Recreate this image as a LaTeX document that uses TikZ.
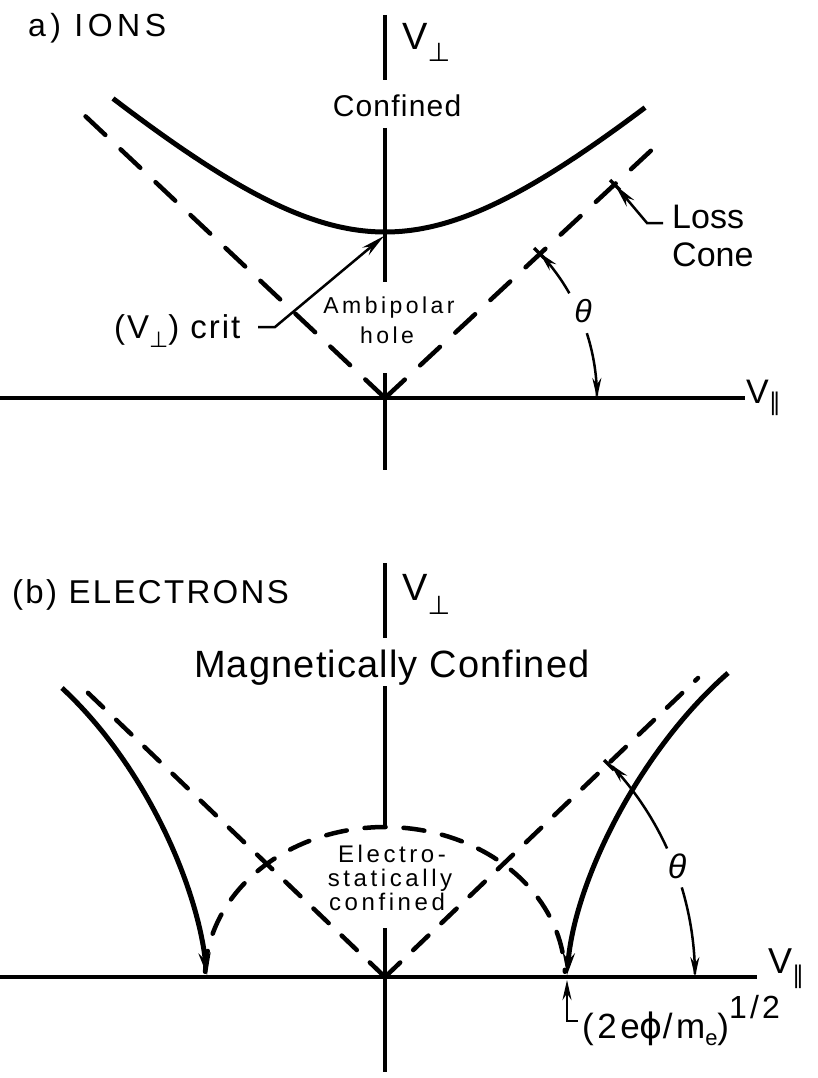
\documentclass[tikz,border=0pt]{standalone}
\usepackage{fontspec}
\setmainfont{Liberation Sans}
\newfontfamily\dejavu{DejaVu Sans}
\newcommand{\lowsym}[3]{\raisebox{#1}{\fontsize{#2}{#2}\selectfont\dejavu #3}}
\usetikzlibrary{arrows.meta}
\begin{document}
\begin{tikzpicture}[x=1pt,y=-1pt,
  axisln/.style={line width=3.5pt},
  solidc/.style={line width=5pt},
  dasha/.style={line width=4.5pt, line cap=round, dash pattern=on 27pt off 21pt},
  dashb/.style={line width=4.5pt, line cap=round, dash pattern=on 21pt off 18pt},
  leaderln/.style={line width=2.5pt},
  tickln/.style={line width=3.5pt},
  arrw/.style={-{Stealth[length=20pt,width=9pt]}},
  arrbig/.style={-{Stealth[length=24pt,width=10pt]}},
  arrfoot/.style={-{Stealth[length=22pt,width=12pt]}},
  txt/.style={inner sep=0pt, anchor=base west},
  txtc/.style={inner sep=0pt, anchor=base}]
\path[use as bounding box] (0,0) rectangle (817,1078);

% ================= panel a =================
\coordinate (oa) at (385,398);
% axes
\draw[axisln] (0,398) -- (745,398);
\draw[axisln] (385,15) -- (385,80);
\draw[axisln] (385,128) -- (385,282);
\draw[axisln] (385,373) -- (385,470);
% solid hyperbola
\draw[solidc] plot[domain=-272:260, samples=90, smooth] ({385+\x},{398-100*sqrt(2.7556+0.84*(\x/100)*(\x/100))});
% dashed loss-cone lines
\draw[dasha] (oa) -- (82,113);
\draw[dasha] (oa) -- (657,145);
% ticks on dashed line
\draw[tickln] (534,248) -- (544,258);
\draw[tickln] (610,180) -- (620,190);
% labels
\node[txt, font={\fontsize{32}{36}\selectfont\addfontfeature{LetterSpace=14}}] (ionsT) at (28,37) {a) IONS};
\node[txt, font={\fontsize{38}{44}\selectfont}] (vperpa) at (402,50) {V\lowsym{-12pt}{26}{⊥}};
\node[txtc, font={\fontsize{30}{36}\selectfont\addfontfeature{LetterSpace=4}}] (confa) at (397,117) {Confined};
\node[txtc, font={\fontsize{23}{30}\selectfont\addfontfeature{LetterSpace=15}}] (ambi) at (389,313) {Ambipolar};
\node[txtc, font={\fontsize{23}{30}\selectfont\addfontfeature{LetterSpace=15}}] (hole) at (387,343) {hole};
\node[txt, font={\fontsize{33}{40}\selectfont\addfontfeature{LetterSpace=6}}] (crit) at (114,338) {(V\lowsym{-9pt}{22}{⊥}) crit};
\node[txt, font={\fontsize{34}{40}\selectfont}] (loss) at (672,228) {Loss};
\node[txt, font={\fontsize{34}{40}\selectfont}] (cone) at (672,266) {Cone};
\node[inner sep=0pt, font={\fontsize{32}{38}\selectfont\itshape}] (tha) at (583,311) {θ};
\node[txt, font={\fontsize{34}{40}\selectfont}] (vpara) at (746,403) {V\lowsym{-7pt}{24}{∥}};
% leaders
\coordinate (critA) at (258,327);
\coordinate (critB) at (275,327);
\coordinate (critT) at (384,236);
\draw[leaderln, arrbig] (critA) -- (critB) -- (critT);
\coordinate (lossA) at (663,223);
\coordinate (lossB) at (647,223);
\coordinate (lossT) at (615,185);
\draw[leaderln, arrbig] (lossA) -- (lossB) -- (lossT);
% theta arc
\draw[leaderln, arrw] plot[domain=29.6:43.3, samples=30] ({385+212*cos(\x)},{398-212*sin(\x)});
\draw[leaderln, arrw] plot[domain=17.8:0, samples=30] ({385+212*cos(\x)},{398-212*sin(\x)});

% ================= panel b =================
\coordinate (ob) at (385,977);
\draw[axisln] (0,977) -- (757,977);
\draw[axisln] (385,563) -- (385,638);
\draw[axisln] (385,686) -- (385,828);
\draw[axisln] (385,928) -- (385,1072);
% dashed cone
\draw[dashb] (ob) -- (85,690);
\draw[dashb] (ob) -- (698,678);
\draw[tickln] (604,760) -- (614,770);
% dashed ellipse
\draw[dashb] plot[domain=178:2, samples=90] ({385+180*cos(\x)},{977-150*sin(\x)});
% solid curves
\draw[solidc, arrfoot] (62,688) .. controls (145,765) and (197,885) .. (207,975);
\draw[solidc, arrfoot] (728,673) .. controls (640,750) and (575,880) .. (567,975);
% labels
\node[txt, font={\fontsize{33}{40}\selectfont\addfontfeature{LetterSpace=7}}] (elec) at (12,603) {(b) ELECTRONS};
\node[txt, font={\fontsize{38}{44}\selectfont}] (vperpb) at (402,600) {V\lowsym{-14pt}{26}{⊥}};
\node[txtc, font={\fontsize{38}{44}\selectfont\addfontfeature{LetterSpace=3}}] (magc) at (392,677) {Magnetically Confined};
\node[txtc, font={\fontsize{24}{26}\selectfont\addfontfeature{LetterSpace=15}}] (el1) at (392,862) {Electro-};
\node[txtc, font={\fontsize{24}{26}\selectfont\addfontfeature{LetterSpace=15}}] (el2) at (390,886) {statically};
\node[txtc, font={\fontsize{24}{26}\selectfont\addfontfeature{LetterSpace=15}}] (el3) at (387,910) {confined};
\node[inner sep=0pt, font={\fontsize{34}{40}\selectfont\itshape}] (thb) at (677,866) {θ};
\node[txt, font={\fontsize{36}{42}\selectfont}] (vparb) at (768,973) {V\lowsym{-10pt}{24}{∥}};
\node[txt, font={\fontsize{35}{42}\selectfont\addfontfeature{LetterSpace=10}}] (phi) at (582,1038) {(2e{\dejavu ϕ}/m\raisebox{-7pt}{\fontsize{22}{22}\selectfont e})\raisebox{20pt}{\fontsize{32}{32}\selectfont 1/2}};
% theta arc b
\draw[leaderln, arrw] plot[domain=24.5:43.4, samples=30] ({385+310*cos(\x)},{977-310*sin(\x)});
\draw[leaderln, arrw] plot[domain=16.8:0, samples=30] ({385+310*cos(\x)},{977-310*sin(\x)});
% phi leader
\coordinate (phA) at (578,1021);
\coordinate (phB) at (567,1021);
\coordinate (phT) at (567,980);
\draw[leaderln, arrw] (phA) -- (phB) -- (phT);
\end{tikzpicture}
\end{document}
